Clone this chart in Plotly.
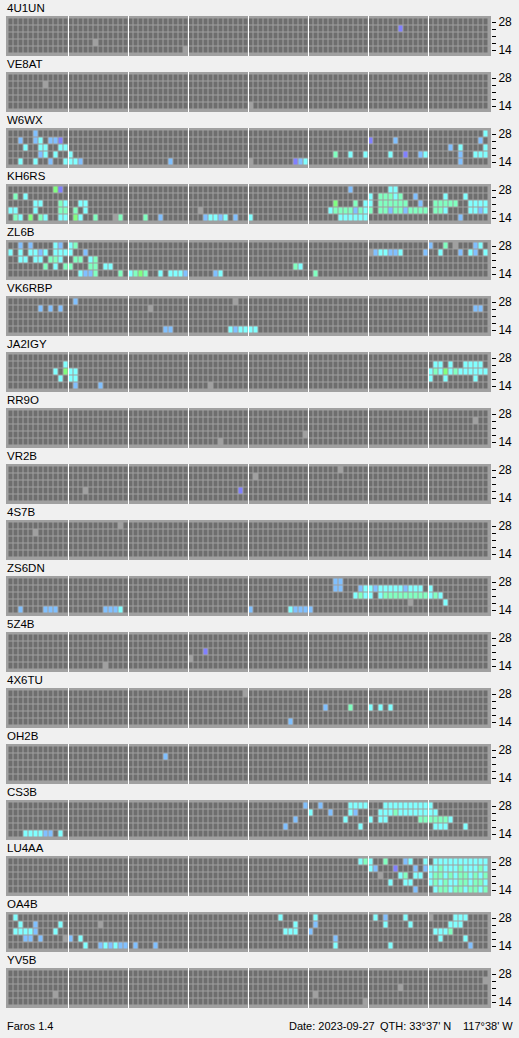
import plotly.graph_objects as go

# ---------------- data ----------------
BEACONS = ["4U1UN", "VE8AT", "W6WX", "KH6RS", "ZL6B", "VK6RBP", "JA2IGY", "RR9O",
           "VR2B", "4S7B", "ZS6DN", "5Z4B", "4X6TU", "OH2B", "CS3B", "LU4AA",
           "OA4B", "YV5B"]
BANDS = [14, 18, 21, 24, 28]          # MHz, bottom -> top
N_SLOTS = 96                          # 15-minute slots over 24 h
BAND_LABELS = ["14", "", "", "", "28"]

# cell codes: g = heard (grey), c = cyan, b = light blue, p = violet, m = mint, G = green
CODES = {"g": 1, "c": 2, "b": 3, "p": 4, "m": 5, "G": 6}
COLORS = ["#6e6e6e", "#a0a0a0", "#80ffff", "#80c0ff", "#8080ff", "#80ffc0", "#80ff80"]

# per beacon: band -> "slot+code ..." entries
D_4U1UN = {28: "", 24: "78p", 21: "", 18: "17g", 14: "35g"}
D_VE8AT = {28: "", 24: "7g", 21: "", 18: "", 14: "48g"}
D_W6WX = {28: "5b 95c",
          24: "2b 5b 6c 8b 9b 10p 72p 77b 94b",
          21: "3c 6c 7c 10c 11c 88b 90c 95c",
          18: "6b 7c 9c 12c 65m 68c 71c 76c 79p 82b 83c 90b 93c 94c 95c",
          14: "2c 5c 8b 11c 12c 13c 14b 32b 48g 57p 58b 59c 90b"}
D_KH6RS = {28: "9G 10p 68b 76c 77c",
           24: "1m 3c 72c 74m 75m 76m 77c 78m 81b 87c 91c",
           21: "5c 6c 10m 11c 14c 15c 65G 69m 71c 72c 74m 75m 76m 77m 78m 79m 82b 85m 86m 87m 88m 89m 92c 93c 94c 95c",
           18: "0c 1c 5c 10m 11m 13m 15c 38g 64c 65m 66m 67m 68m 69b 70m 71c 72m 74m 75m 76b 77m 78m 79b 80m 81m 82m 83m 85m 86m 87c 92c 93c 94b 95c",
           14: "1m 2c 4G 6m 7c 10c 11c 13G 14c 17m 21g 22m 27m 30b 39b 40c 41c 42b 43c 45b 48c 66c 67c 68c 69c 70c 71c 90b"}
D_ZL6B = {28: "2b 4b 9c 10b 12c 13m 84b 87m 89g 93b 94c",
          24: "0c 2c 4c 5c 6b 7c 9c 10c 11c 12c 15b 72g 73b 74c 75c 76b 77b 78c 83b 86c 90b 92c 93b 95c",
          21: "2c 3c 5c 6c 8m 9m 10c 13m 14m 16c 17m",
          18: "7m 9c 11m 12m 16m 17m 19c 20c 57m 58c",
          14: "14c 15b 16b 17m 22m 24c 25m 26G 27m 30c 32c 33c 34c 35b 41b 42c 61m"}
D_VK6RBP = {28: "13b 45g", 24: "6b 8b 10b 28g 93b 94b", 21: "", 18: "",
            14: "31b 32b 44c 45b 46c 47c 48c 49c"}
D_JA2IGY = {28: "",
            24: "11c 85c 86c 88c 91c 92c 93c 94c",
            21: "9c 11G 12c 13c 84c 85m 86c 87G 88c 89m 90c 91c 92c 93c 94c 95c",
            18: "10c 12c 13c 84c 87c 93c",
            14: "13b 18b 40g"}
D_RR9O = {28: "", 24: "93g", 21: "", 18: "59g", 14: "42g"}
D_VR2B = {28: "66g", 24: "49g", 21: "", 18: "15g 46p", 14: ""}
D_4S7B = {28: "22g", 24: "5g", 21: "", 18: "", 14: ""}
D_ZS6DN = {28: "65b 66b",
           24: "65b 66b 70b 71c 72c 73b 74c 75c 76c 77c 78c 79b 80c 81c 82c 84c",
           21: "69c 70m 71c 72c 74c 75m 76m 77m 78m 79m 80m 81m 82m 83m 84c 85m 86c",
           18: "80g 87c",
           14: "2b 7b 8b 9b 19b 20b 21b 22c 48b 56c 57b 58b 59b 60b"}
D_5Z4B = {28: "", 24: "", 21: "39p", 18: "36g", 14: "19g"}
D_4X6TU = {28: "47g", 24: "", 21: "63b 68m 72c 74c 76c", 18: "", 14: "56b"}
D_OH2B = {28: "", 24: "31b", 21: "", 18: "", 14: ""}
D_CS3B = {28: "59b 62b 68c 69c 70c 71c 75c 76c 77c 78c 79c 80c 81c 82c 83c 84c",
          24: "60c 64b 68c 69b 74c 75c 76c 77m 78c 79c 80c 81c 82c 83c 84c 85c",
          21: "57b 67c 72c 74c 75c 82m 83m 84m 85m 86m 87m 88c",
          18: "55b 70c 85c 86c 87c 91c",
          14: "3c 4c 5c 6c 7b 8b 10c"}
D_LU4AA = {28: "70c 71m 72c 75m 79b 80c 83c 85c 86c 87c 88c 89c 90c 91c 92c 93c 94c 95c",
           24: "72c 73b 77p 81b 83b 84c 85c 86m 87c 88c 89c 90m 91c 92c 93c 94m 95c",
           21: "74g 78c 79m 81c 82c 84c 85m 86m 87c 88m 89c 90m 91m 92c 93m 94c 95m",
           18: "76c 79c 80c 84c 85m 86c 87m 88c 89c 90m 91m 92c 93m 94m 95c",
           14: "81b 85c 86m 87m 88c 89m 90m 91c 92m 93m 94c 95m"}
D_OA4B = {28: "1c 54c 61c 73c 75b 79c 84g 89c 90c 91c",
          24: "2c 5b 10c 18g 57c 61b 75c 80c 88c 89c 90c",
          21: "1c 2c 3c 4c 5b 9c 55c 56c 57c 60b 85c 86c 87c 88m",
          18: "3b 4b 6b 11g 12b 14c 65b 86c 91c",
          14: "15c 18b 19c 20b 21c 22b 23b 25b 29b 65c 76c 92b"}
D_YV5B = {28: "", 24: "95g", 21: "78g", 18: "9g 61g", 14: "71g"}

DATA = [D_4U1UN, D_VE8AT, D_W6WX, D_KH6RS, D_ZL6B, D_VK6RBP, D_JA2IGY, D_RR9O,
        D_VR2B, D_4S7B, D_ZS6DN, D_5Z4B, D_4X6TU, D_OH2B, D_CS3B, D_LU4AA,
        D_OA4B, D_YV5B]

FOOT_LEFT = "Faros 1.4"
FOOT_DATE = "Date: 2023-09-27"
FOOT_QTH1 = "QTH: 33°37' N"
FOOT_QTH2 = "117°38' W"


def to_grid(d):
    z = []
    for band in BANDS:
        row = [0] * N_SLOTS
        for tok in d.get(band, "").split():
            col, code = int(tok[:-1]), tok[-1]
            row[col] = CODES[code]
        z.append(row)
    return z


# ---------------- layout geometry (px) ----------------
W, H = 519, 1038
ML, MR, MT, MB = 6, 28, 16, 30
PH = H - MT - MB          # plot height
PANEL_H, PITCH = 40, 56
FONT = "Liberation Sans, Arial, sans-serif"

n = len(COLORS)
cscale = []
for k, c in enumerate(COLORS):
    cscale += [[k / n, c], [(k + 1) / n, c]]

fig = go.Figure()
layout = dict(width=W, height=H, margin=dict(l=ML, r=MR, t=MT, b=MB, pad=0),
              paper_bgcolor="#f0f0f0", plot_bgcolor="#a0a0a0", showlegend=False,
              font=dict(family=FONT, size=11, color="black"))
shapes, annotations = [], []


def py2paper(py):
    return 1 - (py - MT) / PH


def px2x(px):
    return (px - ML) / (W - ML - MR)


for i, (name, d) in enumerate(zip(BEACONS, DATA)):
    k = i + 1
    xa, ya = ("x" if k == 1 else f"x{k}"), ("y" if k == 1 else f"y{k}")
    top = MT + PITCH * i
    bot = top + PANEL_H
    fig.add_trace(go.Heatmap(z=to_grid(d), x=list(range(N_SLOTS)), y=list(range(len(BANDS))),
                             colorscale=cscale, zmin=-0.5, zmax=n - 0.5, showscale=False,
                             xgap=1, ygap=1, hoverinfo="skip", xaxis=xa, yaxis=ya))
    layout[f"xaxis{'' if k == 1 else k}"] = dict(
        domain=[0, 1], anchor=ya, range=[-1.0, 96.0], showticklabels=False, ticks="",
        showgrid=False, zeroline=False, showline=False, fixedrange=True)
    layout[f"yaxis{'' if k == 1 else k}"] = dict(
        domain=[py2paper(bot), py2paper(top)], anchor=xa, side="right",
        range=[-0.5 - 2.5 / 7, 4.5 + 2.5 / 7], tickvals=list(range(5)), ticktext=BAND_LABELS,
        ticks="outside", ticklen=4, tickwidth=1, tickcolor="black",
        tickfont=dict(size=12, color="black"), showgrid=False, zeroline=False,
        showline=False, fixedrange=True)
    for s in range(12, N_SLOTS, 12):
        shapes.append(dict(type="line", xref=xa, yref=f"{ya} domain", x0=s - 0.5, x1=s - 0.5,
                           y0=0, y1=1, line=dict(color="white", width=1)))
    annotations.append(dict(text=name, xref="paper", yref="paper", x=0, y=py2paper(top),
                            xanchor="left", yanchor="bottom", showarrow=False,
                            font=dict(size=11.5), xshift=-1))

fy = py2paper(1026)
foot_font = dict(size=11)
annotations += [
    dict(text=FOOT_LEFT, xref="paper", yref="paper", x=px2x(5), y=fy, xanchor="left",
         yanchor="middle", showarrow=False, font=foot_font),
    dict(text=FOOT_DATE, xref="paper", yref="paper", x=px2x(377), y=fy, xanchor="right",
         yanchor="middle", showarrow=False, font=foot_font),
    dict(text=FOOT_QTH1, xref="paper", yref="paper", x=px2x(453), y=fy, xanchor="right",
         yanchor="middle", showarrow=False, font=foot_font),
    dict(text=FOOT_QTH2, xref="paper", yref="paper", x=px2x(515), y=fy, xanchor="right",
         yanchor="middle", showarrow=False, font=foot_font),
]
layout["shapes"] = shapes
layout["annotations"] = annotations
fig.update_layout(**layout)
fig.write_html("out.html", config={"displayModeBar": False, "staticPlot": True},
               post_script="document.body.style.margin='0';"
                           "document.body.style.backgroundColor='#f0f0f0';"
                           "document.body.style.overflow='hidden';")
